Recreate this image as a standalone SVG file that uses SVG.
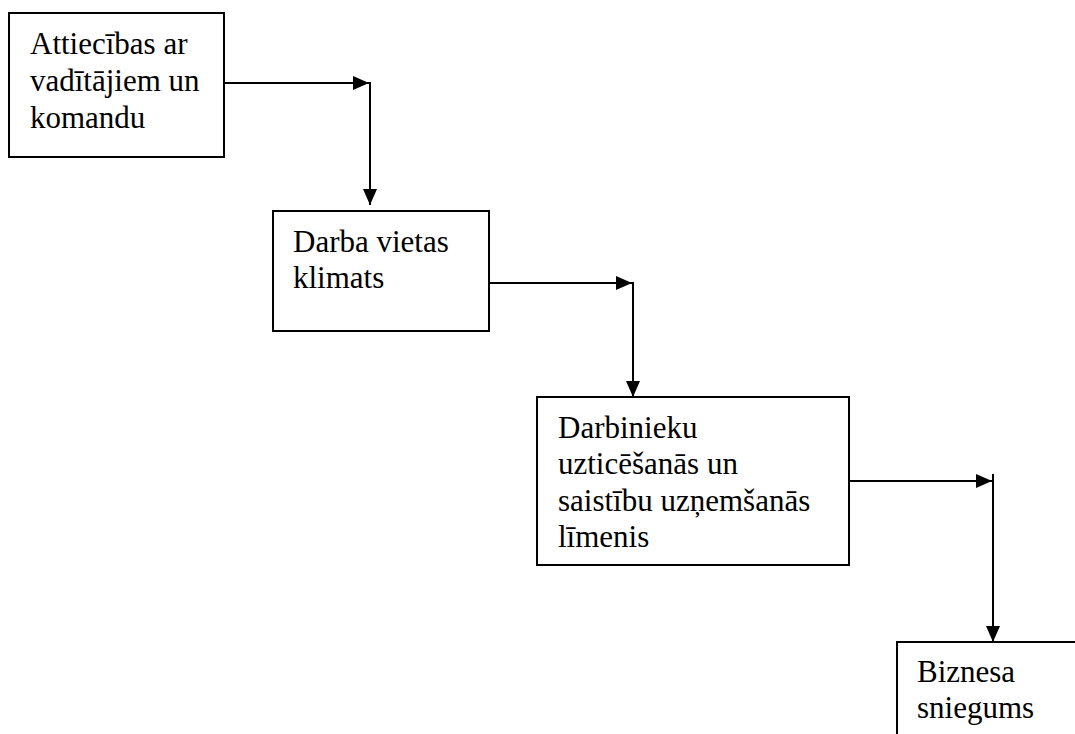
<svg xmlns="http://www.w3.org/2000/svg" width="1075" height="734" viewBox="0 0 1075 734">
<style>
.box{fill:#fff;stroke:#000;stroke-width:2}
.t{font-family:"Liberation Serif","Times New Roman",serif;font-size:31px;fill:#000}
.c{fill:none;stroke:#000;stroke-width:2}
</style>
<defs>
<marker id="ah" markerUnits="userSpaceOnUse" markerWidth="16" markerHeight="14" refX="16" refY="7" orient="auto" overflow="visible">
<path d="M0,0 L16,7 L0,14 Z" fill="#000"/>
</marker>
</defs>
<rect width="1075" height="734" fill="#fff"/>
<g id="n1">
<rect class="box" x="9" y="13" width="215" height="144"/>
<text class="t" x="30" y="54">Attiecības ar</text>
<text class="t" x="30" y="91">vadītājiem un</text>
<text class="t" x="30" y="128">komandu</text>
</g>
<g id="n2">
<rect class="box" x="273" y="211" width="216" height="120"/>
<text class="t" x="293" y="252">Darba vietas</text>
<text class="t" x="293" y="288">klimats</text>
</g>
<g id="n3">
<rect class="box" x="537" y="397" width="312" height="168"/>
<text class="t" x="558" y="438">Darbinieku</text>
<text class="t" x="558" y="474">uzticēšanās un</text>
<text class="t" x="558" y="511">saistību uzņemšanās</text>
<text class="t" x="558" y="547">līmenis</text>
</g>
<g id="n4">
<rect class="box" x="897" y="642" width="200" height="120"/>
<text class="t" x="917" y="682">Biznesa</text>
<text class="t" x="917" y="718">sniegums</text>
</g>
<g id="connectors">
<line class="c" x1="224" y1="83" x2="369" y2="83" marker-end="url(#ah)"/>
<line class="c" x1="370" y1="82" x2="370" y2="205" marker-end="url(#ah)"/>
<line class="c" x1="489" y1="283" x2="632" y2="283" marker-end="url(#ah)"/>
<line class="c" x1="633" y1="282" x2="633" y2="397" marker-end="url(#ah)"/>
<line class="c" x1="849" y1="481" x2="992" y2="481" marker-end="url(#ah)"/>
<line class="c" x1="993" y1="474" x2="993" y2="642" marker-end="url(#ah)"/>
</g>
</svg>
